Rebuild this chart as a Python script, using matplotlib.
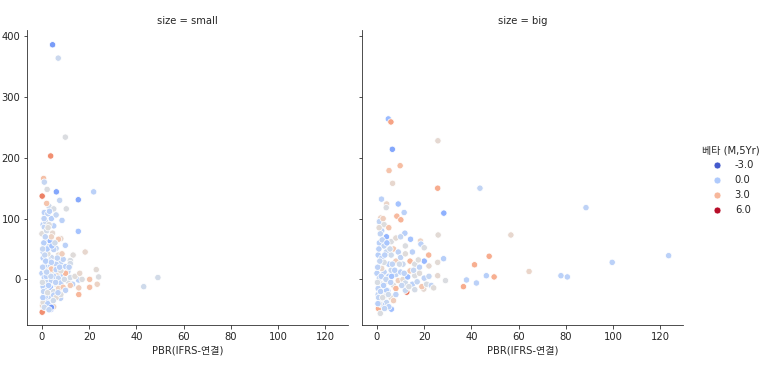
import numpy as np
import matplotlib.pyplot as plt
import matplotlib.colors as mcolors
from matplotlib.lines import Line2D
import seaborn as sns

sns.set_style("ticks")
plt.rcParams['font.family'] = ['DejaVu Sans', 'Noto Sans CJK KR']

# size = small : PBR, value, beta
small_pbr = [4.5, 6.9, 9.9, 3.7, 0.7, 1.0, 2.2, 0.1, 6.1, 21.9, 15.4, 15.4, 7.5, 10.3, 8.5,
             18.3, 23.0, 24.0, 20.2, 20.2, 23.4, 15.5, 15.6, 15.6, 49.1, 43.1, 0.1, 3.8, 5.0,
             0.2, 13.2, 12.0, 9.9, 8.0, 5.4, 7.2, 7.9, 2.2,
             1, 3, 2, 4, 5, 6, 0.5, 2.5, 4.5, 1,
             0, 2, 3.5, 5, 1, 0.5, 3, 6, 4, 2, 7, 1.5, 3,
             0.5, 2, 4, 5, 7, 8, 9, 10, 11, 6, 3, 1, 2.5, 4.5, 8.5, 6.5, 12,
             0, 1, 2, 3, 4, 5, 6, 7, 8, 9, 10, 11, 12, 13, 14, 16, 17, 0.5, 2, 3.5, 5, 7, 9,
             10, 12, 1.5, 4, 6, 8,
             1, 2, 3, 5, 0.5, 2.5, 4, 6, 8, 1, 3,
             0.3, 0.8, 1.2, 1.8, 2.2, 0.2, 1.5, 0.7, 2.8, 3.3, 4.2, 3.8, 1.4, 0.9, 2.6,
             5.5, 6.5, 5.8, 4.8, 0.4, 2.4, 7.5, 9.5, 11.5, 3.2, 1.6, 0.3, 2.0, 4.0, 6.8]
small_val = [386, 364, 234, 203, 166, 160, 148, 137, 144, 144, 131, 79, 130, 116, 97,
             45, 16, 4, 0, -13, -8, -1, -14, -25, 3, -12, -54, -49, -45,
             -43, 40, 31, 56, 67, 22, -16, -31, -33,
             110, 120, 125, 100, 116, 106, 90, 108, 76, 86,
             75, 65, 63, 88, 55, 45, 54, 51, 70, 80, 66, 95, 90,
             35, 30, 36, 49, 40, 28, 33, 21, 13, 25, 20, 22, 42, 15, 42, 10, 26,
             10, 3, -5, 8, -2, 5, -8, 2, -6, 8, 10, -3, 3, -8, 5, 10, 0, -12, -18, -13, -20, -15, -13,
             -18, -10, 14, 17, 16, 14,
             -25, -33, -28, -26, -38, -40, -46, -30, -25, -46, -50,
             20, 60, 40, 5, 50, -5, -28, -20, -10, 30, 55, 5, 70, 100, 85,
             60, 35, -5, -35, -30, -22, 20, 0, 20, 112, 30, 50, 12, 28, -22]
small_beta = [-1.5, 0.8, 1.3, 4.0, 2.7, 0.6, 1.3, 4.3, -1.2, 0.3, -1.1, -0.3, 0.6, 1.3, 0.3,
              1.8, 1.6, 1.3, 2.6, 2.7, 2.0, 0.3, 2.2, 3.0, 1.0, 0.9, 4.0, -1.5, 1.9,
              2.0, 1.5, 1.2, 0.3, 1.8, 2.8, 2.3, 0.4, -0.4,
              0.3, 0.9, 2.6, 0.2, 1.2, 0.6, 0.3, 0.4, 1.7, 0.5,
              1.5, 0.5, -0.6, 0.3, 0.4, 0.3, 0.7, 0.6, 2.0, 1.0, 2.5, 0.8, 1.3,
              0.3, 0.2, 0.8, 0.4, 1.6, 0.5, 0.4, 0.3, 0.6, 0.4, 0.5, 0.2, 1.4, 1.2, 2.2, 1.8, 1.0,
              0.3, 0.1, 0.6, 1.4, 0.4, 0.3, 1.3, 0.6, 0.3, 0.2, 3.0, 1.2, 1.0, 0.4, 1.5, 1.8, 1.3,
              0.2, 0.3, -0.5, 1.1, 2.0, 2.5, 0.4, 2.4, 0.9, 2.6, 0.3, 1.4,
              0.4, -0.3, 0.6, 0.3, 1.5, 0.2, -1.5, 1.6, 1.3, 0.8, 0.5,
              0.4, 0.2, 0.6, 0.3, 0.1, 1.2, 0.3, 0.5, 0.2, 0.3, -0.2, 0.6, 0.5, 0.4, 1.4,
              0.9, 0.5, 0.4, 0.9, 0.2, 1.3, 0.3, 1.0, 0.4, 0.3, 0.2, 0.6, 0.5, 0.3, 0.4]

# size = big : PBR, value, beta
big_pbr = [4.8, 5.9, 6.5, 9.8, 5.1, 6.6, 25.8, 25.7, 43.6, 88.5, 28.3, 1.9, 9.0, 11.5,
           4.1, 3.9, 1.6, 8.4, 10.1, 56.7, 25.9, 11.8, 18.4, 18.6, 20.0, 14.2, 21.9, 28.2,
           25.7, 41.3, 47.5, 64.4, 99.6, 123.5, 77.9, 80.6, 46.3, 49.6, 37.9, 36.6, 42.1,
           29.0, 25.7, 19.8, 12.6, 0.6, 1.4, 6.1, 4.5,
           1, 3, 5, 2, 4, 6, 8, 10, 12, 1, 3, 7, 9,
           0.5, 2, 4, 6, 8, 10, 12, 14, 16, 18, 20, 22, 5, 3, 11, 15,
           0, 1, 2, 3, 4, 5, 6, 7, 8, 9, 10, 11, 12, 13, 14, 15, 16, 17, 18, 19, 20, 21, 22,
           23, 24, 0.5, 2, 8, 12, 16, 4,
           0.5, 1.5, 3, 4, 2, 6, 5, 1, 8, 7,
           0.3, 0.8, 1.2, 1.8, 2.2, 0.2, 1.5, 0.7, 2.8, 3.3, 4.2, 3.8, 1.4, 0.9, 2.6,
           5.5, 6.5, 5.8, 4.8, 0.4, 2.4, 7.5, 9.5, 11.5, 13.5, 15.5, 17.5, 3.2, 6.2, 10.5]
big_val = [264, 259, 214, 187, 179, 158, 228, 150, 150, 118, 109, 132, 124, 110,
           124, 118, 101, 104, 98, 73, 73, 76, 63, 58, 52, 66, 40, 34,
           28, 24, 38, 13, 28, 39, 6, 4, 6, 4, -1, -12, -6,
           -2, 6, -16, -21, -48, -56, -49, -19,
           95, 90, 85, 80, 70, 62, 68, 70, 55, 60, 55, 50, 45,
           40, 35, 45, 40, 30, 36, 42, 30, 25, 20, 30, 22, 25, 28, 25, 45,
           10, 2, -8, 12, -3, 5, 15, -10, 8, -2, 12, 0, -6, 4, 14, -8, 6, -4, 10, -12, 2, -8, 5,
           -10, -14, -15, 18, -15, -18, -17, -18,
           -25, -33, -28, -38, -42, -30, -45, -40, -25, -35,
           20, 50, 30, 5, 65, -5, -20, -30, -10, 40, 60, 0, 75, 85, 100,
           50, 25, -5, -25, -40, -30, 15, 25, 10, -12, 15, 32, -48, 5, -10]
big_beta = [-0.6, 3.5, -1.2, 2.8, 2.6, 1.8, 1.7, 3.3, 0.5, 0.4, -0.9, 0.3, -0.3, 0.3,
            1.9, 1.3, 2.0, 2.9, 3.1, 1.8, 1.6, 0.2, 2.0, 0.3, 1.3, -0.3, 3.0, 0.2,
            1.6, 3.2, 3.3, 1.9, 0.3, 0.3, 0.3, 0.3, 0.2, 3.2, 0.3, 3.3, 0.3,
            1.3, 1.7, 1.7, 4.5, 3.2, 1.3, -0.4, -1.2,
            0.5, 1.4, 2.6, 0.3, -0.8, 1.3, 1.6, 0.6, 1.3, 0.3, 0.5, 2.4, 0.4,
            0.2, 0.3, 0.6, 0.9, 2.2, 0.5, 1.5, 3.0, 1.3, 0.4, -0.7, 1.7, 0.2, 1.2, 0.8, 0.3,
            0.3, 0.6, 1.0, 0.4, 1.5, 0.2, 0.7, 1.4, 0.5, 2.1, 0.3, 1.6, 0.9, -0.5, 2.4, 0.3, 1.3,
            0.6, 1.5, 2.5, 0.4, 1.2, 0.6, 0.5, 1.5, 0.4, 1.8, 3.0, 0.7, 1.1, 0.2,
            0.5, 0.3, 1.2, 0.6, 0.4, 1.6, 0.3, 1.3, 0.4, 2.2,
            0.4, 0.3, 0.6, 0.3, 0.5, 1.2, 0.3, 0.5, 0.2, 0.3, -0.2, 0.6, 0.5, 1.6, 2.2,
            0.9, 0.5, 0.4, 0.9, 0.2, 1.3, 0.3, 1.0, 0.4, 1.2, 0.6, 1.4, 0.5, -0.3, 0.6]

legend_levels = [-3.0, 0.0, 3.0, 6.0]

cmap = plt.get_cmap("coolwarm")
norm = mcolors.Normalize(vmin=-3.3, vmax=6.1)

fig, axes = plt.subplots(1, 2, figsize=(780 / 72, 368 / 72), dpi=72, sharex=True, sharey=True)
fig.subplots_adjust(left=0.035, right=0.876, bottom=0.117, top=0.918, wspace=0.044)

panels = [("small", small_pbr, small_val, small_beta), ("big", big_pbr, big_val, big_beta)]
for ax, (name, xs, ys, bs) in zip(axes, panels):
    ax.scatter(xs, ys, c=cmap(norm(np.array(bs))), s=40, edgecolors="white", linewidths=0.75)
    ax.set_title(f"size = {name}", fontsize=10)
    ax.set_xlabel("PBR(IFRS-연결)", fontsize=10)
    ax.set_ylabel("")
    sns.despine(ax=ax)

axes[0].set_xlim(-6.2, 129.7)
axes[0].set_ylim(-75, 410)
axes[0].set_xticks(range(0, 121, 20))
axes[0].set_yticks(range(0, 401, 100))

handles = [Line2D([], [], marker="o", linestyle="", markersize=7, markerfacecolor=cmap(norm(v)),
                  markeredgecolor="white", markeredgewidth=0.75) for v in legend_levels]
fig.legend(handles, [f"{v:.1f}" for v in legend_levels], title="베타 (M,5Yr)",
           loc="center left", bbox_to_anchor=(0.888, 0.51), frameon=False, fontsize=10, title_fontsize=10)

fig.savefig("out.png", dpi=72)
